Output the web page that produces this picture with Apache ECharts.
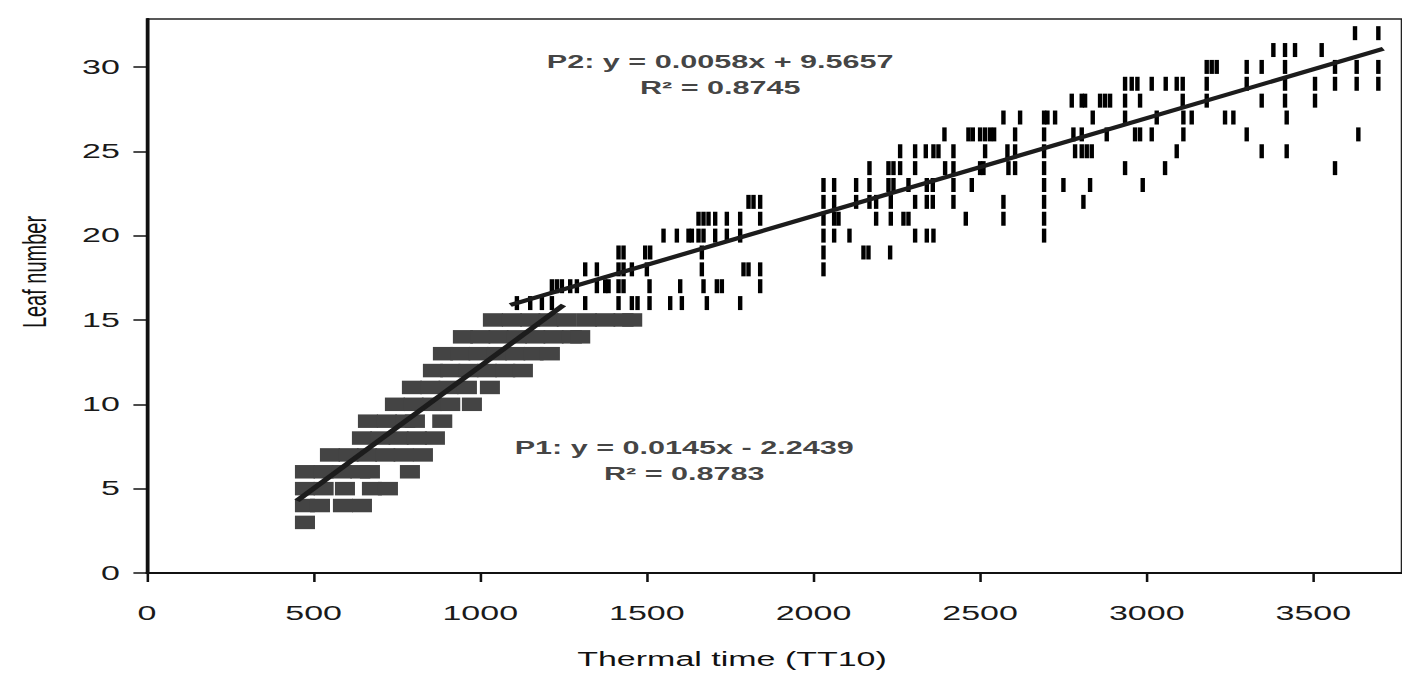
<!DOCTYPE html>
<html>
<head>
<meta charset="utf-8">
<script src="https://cdn.jsdelivr.net/npm/echarts@6/dist/echarts.min.js"></script>
<style>
html,body{margin:0;padding:0;background:#fff;overflow:hidden;width:1402px;height:679px;}
#main{width:825px;height:679px;transform:scaleX(1.69939);transform-origin:0 0;}
</style>
</head>
<body>
<div id="main"></div>
<script>
// ---- data ----
var xTicks = [0, 500, 1000, 1500, 2000, 2500, 3000, 3500];
var yTicks = [0, 5, 10, 15, 20, 25, 30];
var xName = 'Thermal time (TT10)';
var yName = 'Leaf number';

// Phase 1 observations [thermal time, leaf number]
var p1Points = [
  [474,3],
  [474,4],[519,4],[588,4],[645,4],
  [474,5],[530,5],[594,5],[675,5],[723,5],
  [474,6],[530,6],[585,6],[640,6],[669,6],[789,6],
  [549,7],[605,7],[660,7],[715,7],[770,7],[828,7],
  [645,8],[700,8],[755,8],[810,8],[864,8],
  [663,9],[720,9],[775,9],[804,9],[886,9],
  [744,10],[800,10],[855,10],[910,10],[975,10],
  [795,11],[850,11],[905,11],[960,11],[1029,11],
  [858,12],[910,12],[965,12],[1020,12],[1075,12],[1128,12],
  [888,13],[940,13],[995,13],[1050,13],[1105,13],[1160,13],[1209,13],
  [948,14],[1000,14],[1055,14],[1110,14],[1165,14],[1220,14],[1275,14],[1300,14],
  [1038,15],[1095,15],[1150,15],[1205,15],[1260,15],[1320,15],[1375,15],[1430,15],[1456,15]
];

// Phase 2 observations [thermal time, leaf number]
var p2Points = [
  [1110,16],[1150,16],[1185,16],[1215,16],
  [1215,17],[1230,17],[1245,17],[1270,17],[1290,17],
  [1315,18],[1315,16],[1350,18],[1350,17],[1375,17],[1385,17],
  [1415,19],[1415,18],[1415,17],[1415,16],
  [1430,19],[1430,18],[1430,17],
  [1455,18],[1455,16],[1472,16],
  [1495,19],[1510,19],[1500,18],[1508,17],[1508,16],
  [1550,20],[1570,16],[1590,20],[1600,17],[1605,16],
  [1625,20],[1635,20],
  [1655,21],[1670,21],[1685,21],[1655,20],[1670,20],[1665,19],[1665,18],[1670,17],
  [1680,16],[1705,21],[1705,20],[1710,17],[1725,17],
  [1740,21],[1740,20],[1780,21],[1780,20],[1780,16],
  [1790,18],[1805,18],[1805,22],[1820,22],
  [1840,22],[1840,21],[1840,18],[1840,17],
  [2030,23],[2030,22],[2030,21],[2030,20],[2030,19],[2030,18],
  [2062,23],[2062,22],[2062,21],[2075,21],[2062,20],
  [2108,20],[2128,23],[2128,22],[2150,19],[2165,19],
  [2168,24],[2168,23],[2168,22],[2188,22],[2188,21],
  [2225,24],[2240,24],[2225,23],[2240,23],[2232,22],[2232,21],[2230,19],
  [2260,25],[2260,24],[2270,21],[2285,21],[2285,23],
  [2305,25],[2305,24],[2305,22],[2305,20],
  [2337,25],[2340,23],[2340,22],[2340,20],
  [2360,25],[2375,25],[2358,23],[2358,22],[2360,20],
  [2393,26],[2395,24],
  [2420,25],[2420,24],[2420,23],[2420,22],
  [2457,21],[2465,26],[2478,26],[2475,23],
  [2500,26],[2515,26],[2530,26],[2542,26],
  [2500,24],[2510,24],[2515,25],
  [2570,27],[2570,22],[2570,21],
  [2582,25],[2585,24],
  [2605,26],[2605,25],[2605,24],[2620,27],
  [2692,27],[2702,27],[2692,26],[2692,25],[2692,24],[2692,23],[2692,22],[2692,21],[2692,20],
  [2725,27],[2750,23],
  [2775,28],[2780,26],[2785,25],
  [2805,28],[2815,28],[2805,25],[2820,25],[2835,25],[2805,26],
  [2830,23],[2810,22],[2838,27],
  [2860,28],[2875,28],[2890,28],[2880,26],
  [2935,29],[2935,28],[2935,27],[2935,24],
  [2955,29],[2972,29],[2980,28],[2965,26],[2980,26],[2988,23],
  [3015,29],[3015,26],[3030,27],[3057,29],[3055,24],
  [3090,29],[3108,29],[3108,28],[3110,27],[3110,26],[3090,25],
  [3135,27],
  [3180,30],[3195,30],[3210,30],[3180,29],[3180,28],
  [3235,27],[3260,27],
  [3300,30],[3300,29],[3300,26],
  [3345,30],[3345,28],[3345,25],
  [3380,31],
  [3415,31],[3415,30],[3415,29],[3415,28],[3420,27],[3420,25],
  [3445,31],[3505,29],[3505,28],[3525,31],
  [3565,30],[3565,29],[3565,24],
  [3625,32],[3630,30],[3630,29],[3635,26],
  [3695,32],[3695,30],[3695,29]
];

// Fitted trend lines (end points)
var p1Line = [[450, 4.28], [1250, 15.88]];
var p2Line = [[1090, 15.89], [3710, 31.08]];

// Trendline equation texts
var p1Label = 'P1: y = 0.0145x - 2.2439\nR² = 0.8783';
var p2Label = 'P2: y = 0.0058x + 9.5657\nR² = 0.8745';
var p1LabelAt = [1612, 6.67];
var p2LabelAt = [1720, 29.52];

// ---- chart ----
var chart = echarts.init(document.getElementById('main'), null, {renderer: 'svg'});
var font = '"Liberation Sans", Arial, sans-serif';
var labelStyle = {
  show: true, position: 'inside', formatter: function (p) { return p.data.t; },
  fontFamily: font, fontWeight: 'bold', fontSize: 18, lineHeight: 26,
  color: '#111', align: 'center'
};
chart.setOption({
  animation: false,
  backgroundColor: '#fff',
  grid: {left: 86.5, right: 0, top: 19, bottom: 106, show: true,
         borderColor: '#222', borderWidth: 1.5, backgroundColor: 'transparent'},
  xAxis: {
    type: 'value', min: 0, max: 3766, interval: 500,
    name: xName, nameLocation: 'middle', nameGap: 76,
    nameTextStyle: {fontFamily: font, fontSize: 20, color: '#111', padding: [0, 50, 0, 0]},
    axisLine: {show: true, lineStyle: {color: '#111', width: 2}},
    axisTick: {show: true, inside: false, length: 9, customValues: xTicks, lineStyle: {color: '#111', width: 1.5}},
    axisLabel: {customValues: xTicks, margin: 30, fontFamily: font, fontSize: 20, color: '#1a1a1a',
                formatter: function (v) { return String(v); }},
    splitLine: {show: false}
  },
  yAxis: {
    type: 'value', min: 0, max: 32.84, interval: 5,
    name: yName, nameLocation: 'middle', nameGap: 56, nameRotate: 90,
    nameTextStyle: {fontFamily: font, fontSize: 20, color: '#111', padding: [0, 0, 0, 48]},
    axisLine: {show: true, lineStyle: {color: '#111', width: 2}},
    axisTick: {show: true, inside: false, length: 8, customValues: yTicks, lineStyle: {color: '#111', width: 1.5}},
    axisLabel: {customValues: yTicks, margin: 16, fontFamily: font, fontSize: 20, color: '#1a1a1a',
                formatter: function (v) { return String(v); }},
    splitLine: {show: false}
  },
  series: [
    {type: 'scatter', name: 'P1', data: p1Points, symbol: 'rect', symbolSize: [11.8, 13.5],
     itemStyle: {color: '#444', opacity: 1}, z: 2},
    {type: 'scatter', name: 'P2', data: p2Points, symbol: 'rect', symbolSize: [2.6, 14],
     itemStyle: {color: '#000', opacity: 1}, z: 3},
    {type: 'line', data: p1Line, showSymbol: false, symbol: 'none',
     lineStyle: {color: '#1c1c1c', width: 4}, z: 5},
    {type: 'line', data: p2Line, showSymbol: false, symbol: 'none',
     lineStyle: {color: '#1c1c1c', width: 4}, z: 5},
    {type: 'scatter', symbolSize: 0, silent: true, z: 6,
     data: [{value: p2LabelAt, t: p2Label}, {value: p1LabelAt, t: p1Label}],
     label: labelStyle}
  ]
});
</script>
</body>
</html>
